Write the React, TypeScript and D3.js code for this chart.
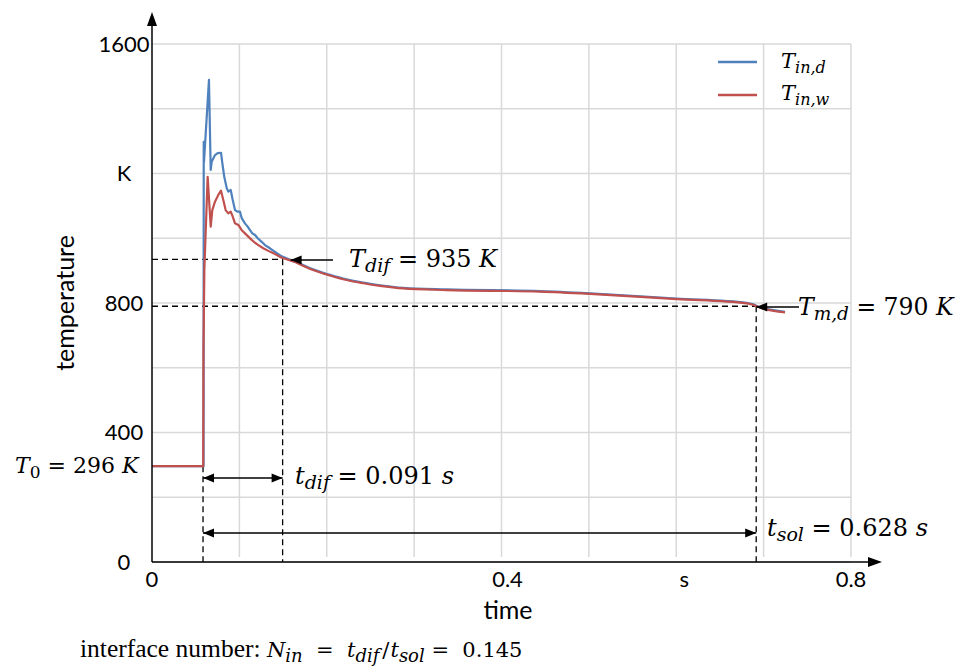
import React from "react";
import * as d3 from "d3";

// ---- data (time in s, temperature in K) ----
const blueTime = [0, 0.0586, 0.0590, 0.0592, 0.0595, 0.0652, 0.0672, 0.0683, 0.0721, 0.0752, 0.0790, 0.0805, 0.0827, 0.0855, 0.0873, 0.0901, 0.0924, 0.0950, 0.0981, 0.1007, 0.1027, 0.1064, 0.1095, 0.1122, 0.1148, 0.1179, 0.1210, 0.1255, 0.1293, 0.1350, 0.1408, 0.1484, 0.1637];
const blueTemp = [296, 296, 296, 1298, 1236, 1489, 1211, 1236, 1257, 1263, 1264, 1232, 1190, 1155, 1144, 1149, 1118, 1087, 1082, 1082, 1062, 1046, 1036, 1025, 1015, 1010, 1000, 989, 979, 969, 958, 944, 927];
const redTime = [0, 0.0586, 0.0589, 0.0599, 0.0637, 0.0672, 0.0690, 0.0721, 0.0759, 0.0790, 0.0816, 0.0843, 0.0873, 0.0901, 0.0924, 0.0950, 0.0988, 0.1027, 0.1064, 0.1102, 0.1141, 0.1179, 0.1217, 0.1274, 0.1331, 0.1408, 0.1484, 0.1637];
const redTemp = [296, 296, 655, 902, 1190, 1036, 1087, 1113, 1134, 1147, 1118, 1087, 1077, 1082, 1067, 1046, 1041, 1025, 1015, 1005, 995, 986, 979, 969, 961, 951, 940, 927];
// common tail (both curves coincide)
const tailTime = [0.1637, 0.1843, 0.2037, 0.2228, 0.2420, 0.2609, 0.2876, 0.3373, 0.4441, 0.5013, 0.6005, 0.6806, 0.6882, 0.6924, 0.7245];
const tailTemp = [927, 902, 885, 871, 861, 853, 845, 840, 835, 828, 812, 799, 794, 789, 771];

const yTicks = [0, 400, 800, 1200, 1600];
const yTickLabels = ["0", "400", "800", "K", "1600"];
const yGrid = [0, 200, 400, 600, 800, 1000, 1200, 1400, 1600];
const xTicks = [0, 0.4, 0.6, 0.8];
const xTickLabels = ["0", "0.4", "s", "0.8"];
const xGrid = [0.1, 0.2, 0.3, 0.4, 0.5, 0.6, 0.7, 0.8];

const T0 = 296;
const tStart = 0.0584;
const tDifEnd = 0.1495;
const TDif = 935;
const tSolEnd = 0.6915;
const TMd = 790;

const BLUE = "#4F81BD";
const RED = "#C0504D";
const SANS = "Lato, 'Open Sans', sans-serif";
const SERIF = "'Liberation Serif', serif";
const MATH = "'DejaVu Serif', serif";

const x = d3.scaleLinear().domain([0, 0.8]).range([152, 851]);
const y = d3.scaleLinear().domain([0, 1600]).range([562, 44]);

const lineLin = d3
  .line<[number, number]>()
  .x((d) => x(d[0]))
  .y((d) => y(d[1]));
const lineSmooth = d3
  .line<[number, number]>()
  .x((d) => x(d[0]))
  .y((d) => y(d[1]))
  .curve(d3.curveMonotoneX);

const zip = (a: number[], b: number[]) => a.map((v, i) => [v, b[i]] as [number, number]);
const bluePts = zip(blueTime, blueTemp);
const redPts = zip(redTime, redTemp);
const tailPts = zip(tailTime, tailTemp);

function Arrow({ x1, x2, yy, both }: { x1: number; x2: number; yy: number; both?: boolean }) {
  const head = (tip: number, dir: number) => {
    const L = 11, W = 4.5;
    return `M${tip},${yy} L${tip + dir * L},${yy - W} L${tip + dir * L},${yy + W} Z`;
  };
  const d1 = x2 > x1 ? 1 : -1;
  return (
    <g>
      <line x1={x1} x2={x2} y1={yy} y2={yy} stroke="#000" strokeWidth={1.5} />
      <path d={head(x1, d1)} fill="#000" />
      {both && <path d={head(x2, -d1)} fill="#000" />}
    </g>
  );
}

const pre: React.CSSProperties = { whiteSpace: "pre" };

function MathLabel({
  x0, y0, main, sub, value, unit, fs = 24, subFs = 19, subItalic = true,
}: {
  x0: number; y0: number; main: string; sub: string; value: string; unit: string; fs?: number; subFs?: number; subItalic?: boolean;
}) {
  return (
    <text x={x0} y={y0} fontFamily={MATH} fontSize={fs} style={pre}>
      <tspan fontStyle="italic">{main}</tspan>
      <tspan fontStyle={subItalic ? "italic" : "normal"} fontSize={subFs} dy={5}>{sub}</tspan>
      <tspan dy={-5}>{" = " + value + " "}</tspan>
      <tspan fontStyle="italic">{unit}</tspan>
    </text>
  );
}

export default function App() {
  const bf = 21;
  const bs = 18;
  return (
    <svg width={961} height={667} style={{ display: "block", position: "absolute", left: 0, top: 0 }}>
      <rect width={961} height={667} fill="#fff" />
      {/* grid */}
      {yGrid.map((v) => (
        <line key={"gy" + v} x1={152} x2={851} y1={y(v)} y2={y(v)} stroke="#d9d9d9" strokeWidth={1.5} />
      ))}
      {xGrid.map((v) => (
        <line key={"gx" + v} x1={x(v)} x2={x(v)} y1={44} y2={557} stroke="#d9d9d9" strokeWidth={1.5} />
      ))}
      {/* dashed guides */}
      <g stroke="#000" strokeWidth={1.3} strokeDasharray="6,4" fill="none">
        <line x1={152} x2={x(tDifEnd)} y1={y(TDif)} y2={y(TDif)} />
        <line x1={x(tDifEnd)} x2={x(tDifEnd)} y1={y(TDif)} y2={562} />
        <line x1={152} x2={x(tSolEnd)} y1={y(TMd)} y2={y(TMd)} />
        <line x1={x(tSolEnd)} x2={x(tSolEnd)} y1={y(TMd)} y2={562} />
        <line x1={x(tStart)} x2={x(tStart)} y1={y(T0)} y2={562} />
      </g>
      {/* series */}
      <path d={lineLin(bluePts) || ""} fill="none" stroke={BLUE} strokeWidth={2.2} strokeLinejoin="round" />
      <path d={lineSmooth(tailPts) || ""} fill="none" stroke={BLUE} strokeWidth={2.2} transform="translate(0,-0.6)" />
      <path d={lineLin(redPts) || ""} fill="none" stroke={RED} strokeWidth={2.2} strokeLinejoin="round" />
      <path d={lineSmooth(tailPts) || ""} fill="none" stroke={RED} strokeWidth={2.2} />
      {/* axes */}
      <line x1={152} x2={152} y1={562} y2={22} stroke="#000" strokeWidth={1.5} />
      <path d="M152,12 L147,26 L157,26 Z" fill="#000" />
      <line x1={152} x2={872} y1={562} y2={562} stroke="#000" strokeWidth={1.5} />
      <path d="M882,562 L868,557 L868,567 Z" fill="#000" />
      {/* tick labels */}
      {yTicks.map((v, i) => (
        <text key={"yt" + v} x={124} y={y(v)} dy="0.35em" textAnchor="middle" fontFamily={SANS} fontSize={22}>
          {yTickLabels[i]}
        </text>
      ))}
      {xTicks.map((v, i) => (
        <text key={"xt" + v} x={x(v) + (i === 1 ? 6 : i === 2 ? 8 : 0)} y={587} textAnchor="middle" fontFamily={SANS} fontSize={22}>
          {xTickLabels[i]}
        </text>
      ))}
      <text x={508} y={619} textAnchor="middle" fontFamily={SANS} fontSize={25}>time</text>
      <text transform="translate(74,303) rotate(-90)" textAnchor="middle" fontFamily={SANS} fontSize={25}>temperature</text>
      {/* legend */}
      <line x1={718} x2={757} y1={62} y2={62} stroke={BLUE} strokeWidth={2.5} />
      <line x1={718} x2={757} y1={95} y2={95} stroke={RED} strokeWidth={2.5} />
      <text x={781} y={68} fontFamily={MATH} fontSize={21} fontStyle="italic" style={pre}>
        T<tspan fontSize={16} dy={5}>in,d</tspan>
      </text>
      <text x={781} y={100} fontFamily={MATH} fontSize={21} fontStyle="italic" style={pre}>
        T<tspan fontSize={16} dy={5}>in,w</tspan>
      </text>
      {/* annotations */}
      <Arrow x1={x(tDifEnd) + 8} x2={333} yy={260} />
      <MathLabel x0={349} y0={267} main="T" sub="dif" value="935" unit="K" />
      <Arrow x1={x(tSolEnd)} x2={799} yy={307} />
      <MathLabel x0={798} y0={315} main="T" sub="m,d" value="790" unit="K" fs={23.5} subFs={18.5} />
      <MathLabel x0={15} y0={473} main="T" sub="0" value="296" unit="K" subItalic={false} fs={22} subFs={17} />
      <Arrow x1={x(tStart)} x2={x(tDifEnd)} yy={478} both />
      <MathLabel x0={295} y0={484} main="t" sub="dif" value="0.091" unit="s" />
      <Arrow x1={x(tStart)} x2={x(tSolEnd)} yy={533} both />
      <MathLabel x0={767} y0={536} main="t" sub="sol" value="0.628" unit="s" />
      {/* bottom formula */}
      <text x={80} y={657} fontFamily={SERIF} fontSize={25.5} style={pre}>
        {"interface number: "}
        <tspan fontFamily={MATH} fontSize={bf} fontStyle="italic">N</tspan>
        <tspan fontFamily={MATH} fontStyle="italic" fontSize={bs} dy={5}>in</tspan>
        <tspan fontFamily={MATH} fontSize={bf} dy={-5}>{"  =  "}</tspan>
        <tspan fontFamily={MATH} fontSize={bf} fontStyle="italic">t</tspan>
        <tspan fontFamily={MATH} fontStyle="italic" fontSize={bs} dy={5}>dif</tspan>
        <tspan fontFamily={MATH} fontSize={bf} dy={-5} dx={3}>/</tspan>
        <tspan fontFamily={MATH} fontSize={bf} fontStyle="italic" dx={1}>t</tspan>
        <tspan fontFamily={MATH} fontStyle="italic" fontSize={bs} dy={5}>sol</tspan>
        <tspan fontFamily={MATH} fontSize={bf} dy={-5}>{" =  0.145"}</tspan>
      </text>
    </svg>
  );
}
